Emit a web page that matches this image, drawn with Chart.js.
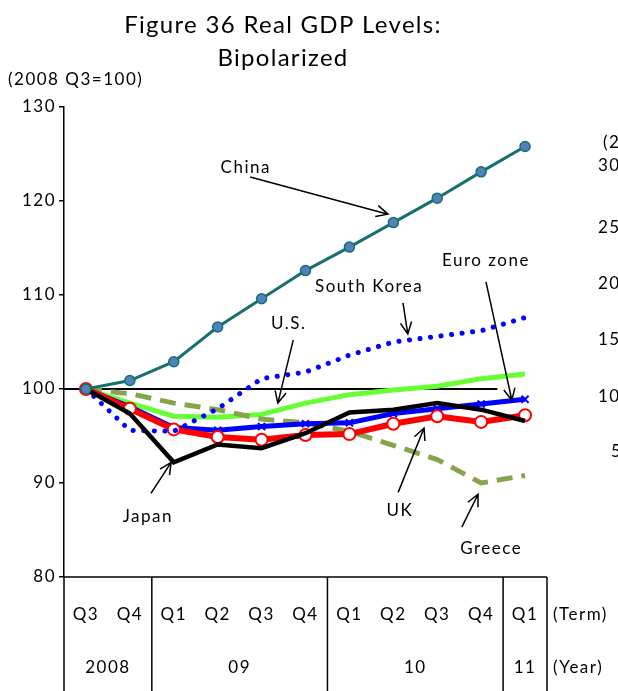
<!DOCTYPE html>
<html>
<head>
<meta charset="utf-8">
<script src="https://cdn.jsdelivr.net/npm/chart.js@4.4.1/dist/chart.umd.min.js"></script>
<style>
  html, body { margin: 0; padding: 0; background: #fff; }
  canvas { display: block; }
</style>
</head>
<body>
<canvas id="chart1" width="618" height="691"></canvas>
<script>
// quarters and years (two level axis)
const terms = ['Q3', 'Q4', 'Q1', 'Q2', 'Q3', 'Q4', 'Q1', 'Q2', 'Q3', 'Q4', 'Q1'];
const years = [['2008', 0, 1], ['09', 2, 5], ['10', 6, 9], ['11', 10, 10]];

// real GDP levels, 2008 Q3 = 100
const china = [100, 100.9, 102.9, 106.6, 109.6, 112.6, 115.1, 117.7, 120.3, 123.1, 125.8];
const japan = [100, 97.4, 92.2, 94.1, 93.7, 95.3, 97.5, 97.8, 98.5, 97.8, 96.6];
const southKorea = [100, 95.6, 95.5, 97.9, 101.1, 101.8, 103.6, 105.0, 105.6, 106.2, 107.6];
const uk = [100, 97.9, 95.7, 94.9, 94.6, 95.1, 95.2, 96.3, 97.1, 96.5, 97.2];
const euroZone = [100, 98.1, 95.9, 95.6, 96.0, 96.3, 96.4, 97.4, 97.9, 98.4, 98.9];
const greece = [100, 99.5, 98.5, 97.8, 96.8, 96.4, 95.5, 94.0, 92.5, 90.0, 90.8];
const us = [100, 98.5, 97.1, 97.0, 97.3, 98.5, 99.4, 99.9, 100.3, 101.1, 101.6];

const yTicks = [80, 90, 100, 110, 120, 130];

// labels + arrows, placed in data units (category index, value)
const notes = [
  { text: 'China', at: [3.64, 123.6], from: [3.74, 122.55], to: [6.88, 118.6] },
  { text: 'South Korea', at: [6.45, 110.85], from: [7.22, 109.15], to: [7.33, 105.85] },
  { text: 'Euro zone', at: [9.11, 113.7], from: [9.11, 111.4], to: [9.70, 98.8] },
  { text: 'U.S.', at: [4.62, 107.0], from: [4.72, 105.2], to: [4.37, 98.5] },
  { text: 'Japan', at: [1.41, 86.4], from: [1.48, 88.9], to: [1.94, 92.2] },
  { text: 'UK', at: [7.15, 87.1], from: [7.11, 89.0], to: [7.70, 95.85] },
  { text: 'Greece', at: [9.23, 83.0], from: [8.56, 85.3], to: [8.93, 88.8] }
];

// cut-off axis of the next chart on the right edge
const sideTexts = [['(2', 603, 143], ['30', 598, 166], ['25', 598, 228], ['20', 598, 284], ['15', 598, 340], ['10', 598, 397], ['5', 611, 452]];

const FONT = 'Lato, "Open Sans", sans-serif';

const extras = {
  id: 'extras',
  beforeDraw(chart) {
    // excel-like wide text
    chart.ctx.letterSpacing = '1.5px';
  },
  beforeDatasetsDraw(chart) {
    const { ctx, scales: { x, y }, chartArea } = chart;
    // 100 line
    ctx.save();
    ctx.strokeStyle = '#000';
    ctx.lineWidth = 2;
    ctx.beginPath();
    ctx.moveTo(chartArea.left, y.getPixelForValue(100));
    ctx.lineTo(x.getPixelForValue(9.37), y.getPixelForValue(100));
    ctx.stroke();
    ctx.restore();
  },
  afterDraw(chart) {
    const { ctx, scales: { x, y }, chartArea } = chart;
    ctx.save();
    ctx.fillStyle = '#000';
    ctx.textAlign = 'center';
    ctx.textBaseline = 'middle';

    // title
    ctx.font = '24px ' + FONT;
    ctx.letterSpacing = '1.3px';
    ctx.fillText('Figure 36 Real GDP Levels:', 283, 25);
    ctx.fillText('Bipolarized', 283, 58);
    ctx.letterSpacing = '1.5px';
    ctx.font = '17px ' + FONT;
    ctx.textAlign = 'left';
    ctx.fillText('(2008 Q3=100)', 8, 80);

    // category table
    const bottom = chart.height;
    const top = chartArea.bottom;
    const half = x.getPixelForValue(1) - x.getPixelForValue(0);
    ctx.strokeStyle = '#000';
    ctx.lineWidth = 1.5;
    ctx.beginPath();
    ctx.moveTo(chartArea.left, top);
    ctx.lineTo(chartArea.right, top);
    const edges = [chartArea.left];
    years.forEach(([, a, b]) => edges.push(x.getPixelForValue(b) + half / 2));
    edges.forEach(px => { ctx.moveTo(px, top); ctx.lineTo(px, bottom); });
    ctx.stroke();

    ctx.textAlign = 'center';
    ctx.font = '17px ' + FONT;
    terms.forEach((t, i) => ctx.fillText(t, x.getPixelForValue(i), 615));
    years.forEach(([lab, a, b]) => {
      ctx.fillText(lab, (x.getPixelForValue(a) + x.getPixelForValue(b)) / 2, 668);
    });
    ctx.textAlign = 'left';
    ctx.fillText('(Term)', chartArea.right + 6, 615);
    ctx.fillText('(Year)', chartArea.right + 6, 668);

    // annotations
    ctx.lineWidth = 1.5;
    notes.forEach(n => {
      ctx.textAlign = 'center';
      ctx.fillText(n.text, x.getPixelForValue(n.at[0]), y.getPixelForValue(n.at[1]));
      const x1 = x.getPixelForValue(n.from[0]), y1 = y.getPixelForValue(n.from[1]);
      const x2 = x.getPixelForValue(n.to[0]), y2 = y.getPixelForValue(n.to[1]);
      const ang = Math.atan2(y2 - y1, x2 - x1);
      ctx.beginPath();
      ctx.moveTo(x1, y1);
      ctx.lineTo(x2, y2);
      ctx.moveTo(x2 - 13 * Math.cos(ang - 0.45), y2 - 13 * Math.sin(ang - 0.45));
      ctx.lineTo(x2, y2);
      ctx.lineTo(x2 - 13 * Math.cos(ang + 0.45), y2 - 13 * Math.sin(ang + 0.45));
      ctx.stroke();
    });

    // right side leftovers
    ctx.textAlign = 'left';
    sideTexts.forEach(([t, px, py]) => ctx.fillText(t, px, py));
    ctx.restore();
  }
};

const chart1 = document.getElementById('chart1');

new Chart(chart1, {
  type: 'line',
  data: {
    labels: terms,
    datasets: [
      { label: 'China', data: china, borderColor: '#17706e', borderWidth: 3,
        pointRadius: 5, pointBackgroundColor: '#4f81bd', pointBorderColor: '#17706e', pointBorderWidth: 1.5 },
      { label: 'Japan', data: japan, borderColor: '#000', borderWidth: 4.5, pointRadius: 0 },
      { label: 'South Korea', data: southKorea, borderColor: '#0000ff', borderWidth: 5,
        borderDash: [0.1, 10.5], borderCapStyle: 'round', pointRadius: 0 },
      { label: 'UK', data: uk, borderColor: '#ff0000', borderWidth: 6,
        pointRadius: 6, pointBackgroundColor: '#fff', pointBorderColor: '#ff0000', pointBorderWidth: 2 },
      { label: 'Euro zone', data: euroZone, borderColor: '#0000ff', borderWidth: 5,
        pointStyle: 'crossRot', pointRadius: 5, pointBorderColor: '#0000ff', pointBorderWidth: 2 },
      { label: 'Greece', data: greece, borderColor: '#86a44c', borderWidth: 5,
        borderDash: [16, 9], pointRadius: 0 },
      { label: 'U.S.', data: us, borderColor: '#66ff33', borderWidth: 5, pointRadius: 0 }
    ]
  },
  options: {
    responsive: false,
    animation: false,
    layout: { padding: { top: 107, right: 71, bottom: 0, left: 0 } },
    plugins: { legend: { display: false }, tooltip: { enabled: false } },
    scales: {
      x: {
        offset: true,
        grid: { display: false },
        border: { display: false },
        ticks: { display: false },
        afterFit: s => { s.height = 114; }
      },
      y: {
        min: 80,
        max: 130,
        afterBuildTicks: s => { s.ticks = yTicks.map(v => ({ value: v })); },
        afterFit: s => { s.width = 64; },
        grid: { drawOnChartArea: false, drawTicks: true, tickLength: 5, color: '#000', lineWidth: 1.5 },
        border: { display: true, color: '#000', width: 1.5 },
        ticks: { color: '#000', font: { family: FONT, size: 17 }, padding: 3 }
      }
    }
  },
  plugins: [extras]
});
</script>
</body>
</html>
